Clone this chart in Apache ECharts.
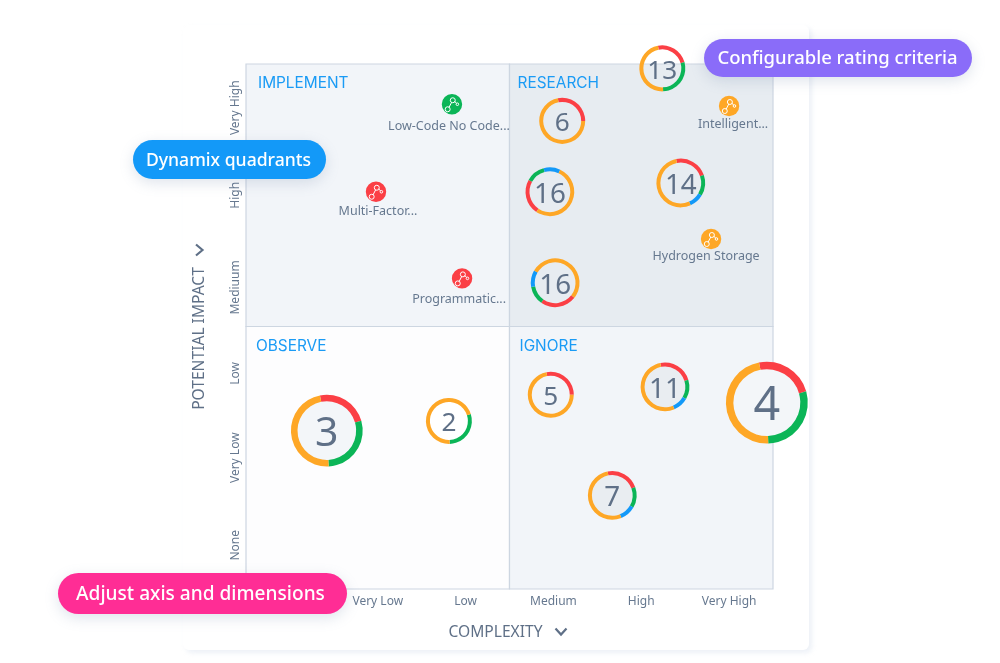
<!DOCTYPE html>
<html>
<head>
<meta charset="utf-8">
<style>html,body{margin:0;padding:0;background:#fff}#chart{width:1000px;height:663px}</style>
<script src="https://cdn.jsdelivr.net/npm/echarts@6/dist/echarts.min.js"></script>
</head>
<body>
<div id="chart"></div>
<script>
// ---- data ----
const complexityLabels = ['None', 'Very Low', 'Low', 'Medium', 'High', 'Very High'];
const impactLabels = ['None', 'Very Low', 'Low', 'Mediuum', 'High', 'Very High'];

const quadrantNames = ['IMPLEMENT', 'RESEARCH', 'OBSERVE', 'IGNORE'];
const quadrantX0 = [0, 3, 0, 3];
const quadrantY0 = [3, 3, 0, 0];

const bubbleCounts = [13, 6, 16, 14, 16, 3, 2, 5, 11, 4, 7];
const bubbleX = [4.74, 3.60, 3.46, 4.95, 3.52, 0.92, 2.31, 3.47, 4.77, 5.93, 4.17];
const bubbleY = [5.95, 5.35, 4.54, 4.64, 3.50, 1.81, 1.92, 2.22, 2.31, 2.13, 1.07];
const bubbleWeight = [1, 1, 1.06, 1.06, 1.06, 1.56, 1, 1, 1.06, 1.78, 1.06];
const ringStart = [-11, -11, 214, -11, 128, -11, 72, -11, -11, -11, -11];
const shareRed = [85, 101, 85, 82, 87, 85, 0, 101, 84, 85, 81];
const shareGreen = [104, 0, 46, 50, 45, 103, 106, 0, 47, 104, 50];
const shareBlue = [0, 0, 40, 35, 40, 0, 0, 0, 37, 0, 38];
const shareOrange = [171, 259, 189, 193, 188, 172, 254, 259, 192, 171, 191];

const pointNames = ['Low-Code No Code...', 'Multi-Factor...', 'Programmatic...', 'Intelligent...', 'Hydrogen Storage'];
const pointX = [2.345, 1.48, 2.46, 5.50, 5.295];
const pointY = [5.54, 4.54, 3.55, 5.52, 4.0];
const pointRating = ['green', 'red', 'red', 'orange', 'orange'];

// ---- styles ----
const COLORS = { red: '#fb3f45', green: '#0bb557', blue: '#1399f8', orange: '#fea726' };
const quadrantFill = ['#f2f5f9', '#e7ecf1', '#fdfdfe', '#f2f5f9'];
const quadrantLabelOffset = [[12, 19], [8, 19], [10, 20], [10, 20]];
const pointLabelOffset = [[-3, 22], [2, 20], [-3, 21], [4, 18], [-5, 17]];
const bubbleFill = { 3: '#f3f6f9', 4: '#f3f6f9', 11: '#e9edf1', 7: '#e9edf1', 2: '#ffffff' };
const TEXT = '#5f7087', FONT = '"Noto Sans", sans-serif';
const BASE_R = 23;

const rad = d => (d - 90) * Math.PI / 180;

function renderQuadrant(params, api) {
  const i = params.dataIndex;
  const a = api.coord([api.value(0), api.value(1) + 3]);
  const b = api.coord([api.value(0) + 3, api.value(1)]);
  const off = quadrantLabelOffset[i];
  return {
    type: 'group',
    children: [
      { type: 'rect', shape: { x: a[0], y: a[1], width: b[0] - a[0], height: b[1] - a[1] },
        style: { fill: quadrantFill[i], stroke: '#cdd6e1', lineWidth: 1.2 } },
      { type: 'text', x: a[0] + off[0], y: a[1] + off[1],
        style: { text: quadrantNames[i], fill: '#1a9bf5', font: '15.4px Inter, ' + FONT, verticalAlign: 'middle', align: 'left' } }
    ]
  };
}

function renderBubble(params, api) {
  const i = params.dataIndex;
  const c = api.coord([api.value(0), api.value(1)]);
  const w = api.value(2);
  const r = BASE_R * w;
  const thick = 4 * (w > 1.2 ? w * 1.05 : 1);
  const children = [];
  const n = bubbleCounts[i];
  if (bubbleFill[n]) {
    children.push({ type: 'circle', shape: { cx: c[0], cy: c[1], r: r - thick / 2 }, style: { fill: bubbleFill[n] } });
  }
  let angle = ringStart[i];
  [['red', shareRed], ['green', shareGreen], ['blue', shareBlue], ['orange', shareOrange]].forEach(([k, arr]) => {
    const v = arr[i];
    if (!v) return;
    children.push({ type: 'sector',
      shape: { cx: c[0], cy: c[1], r: r, r0: r - thick, startAngle: rad(angle), endAngle: rad(angle + v), clockwise: true },
      style: { fill: COLORS[k] } });
    angle += v;
  });
  children.push({ type: 'text', x: c[0], y: c[1] + 1.8 + r * 0.05,
    style: { text: String(n), fill: TEXT, font: (r * 1.14).toFixed(1) + 'px ' + FONT, align: 'center', verticalAlign: 'middle' } });
  return { type: 'group', children };
}

function renderPoint(params, api) {
  const i = params.dataIndex;
  const c = api.coord([api.value(0), api.value(1)]);
  const x = c[0], y = c[1], ln = { stroke: '#fff', lineWidth: 1, fill: null };
  const off = pointLabelOffset[i];
  return {
    type: 'group',
    children: [
      { type: 'circle', shape: { cx: x, cy: y, r: 10.2 }, style: { fill: COLORS[pointRating[i]] } },
      { type: 'line', shape: { x1: x - 3, y1: y + 3.2, x2: x - 0.3, y2: y - 2 }, style: ln },
      { type: 'line', shape: { x1: x + 2.6, y1: y - 3, x2: x + 4.6, y2: y - 0.8 }, style: ln },
      { type: 'circle', shape: { cx: x - 4.3, cy: y + 5, r: 2.5 }, style: ln },
      { type: 'circle', shape: { cx: x + 0.8, cy: y - 4, r: 2.5 }, style: ln },
      { type: 'circle', shape: { cx: x + 5.4, cy: y, r: 1.3 }, style: ln },
      { type: 'text', x: x + off[0], y: y + off[1],
        style: { text: pointNames[i], fill: '#66788f', font: '12.5px ' + FONT, align: 'center', verticalAlign: 'middle' } }
    ]
  };
}

function pill(x, y, w, h, color, text, size, dx) {
  return { type: 'group', z: 100, children: [
    { type: 'rect', z: 100, shape: { x, y, width: w, height: h, r: h / 2 },
      style: { fill: color, shadowBlur: 14, shadowOffsetY: 4, shadowColor: 'rgba(110,130,170,0.22)' } },
    { type: 'text', z: 101, x: x + w / 2 + dx, y: y + h / 2 + 1,
      style: { text, fill: '#fff', font: '500 ' + size + 'px ' + FONT, align: 'center', verticalAlign: 'middle' } }
  ] };
}

const chevStyle = { stroke: TEXT, lineWidth: 2.2, fill: null };
const impactLabelShift = { Mediuum: '   ', Low: '  ' };

const chart = echarts.init(document.getElementById('chart'), null, { renderer: 'canvas' });
chart.setOption({
  animation: false,
  backgroundColor: '#fff',
  grid: { left: 246, top: 64, width: 527, height: 525 },
  xAxis: [
    { type: 'category', data: complexityLabels, boundaryGap: true, position: 'bottom',
      axisLine: { show: false }, axisTick: { show: false }, splitLine: { show: false },
      axisLabel: { interval: 0, color: '#66788f', fontSize: 12, fontFamily: 'Noto Sans', margin: 7 },
      name: 'COMPLEXITY', nameLocation: 'middle', nameGap: 36,
      nameTextStyle: { color: TEXT, fontSize: 15.6, fontFamily: 'Noto Sans', padding: [0, 28, 0, 0] } },
    { type: 'value', min: 0, max: 6, show: false }
  ],
  yAxis: [
    { type: 'category', data: impactLabels, boundaryGap: true, position: 'left',
      axisLine: { show: false }, axisTick: { show: false }, splitLine: { show: false },
      axisLabel: { interval: 0, rotate: 90, color: '#66788f', fontSize: 12, fontFamily: 'Noto Sans', margin: 4,
        formatter: v => v + (impactLabelShift[v] || '') },
      name: 'POTENTIAL IMPACT', nameLocation: 'middle', nameGap: 38,
      nameTextStyle: { color: TEXT, fontSize: 15.6, fontFamily: 'Noto Sans', padding: [0, 24, 0, 0] } },
    { type: 'value', min: 0, max: 6, show: false }
  ],
  series: [
    { type: 'custom', name: 'quadrants', xAxisIndex: 1, yAxisIndex: 1, z: 1, silent: true,
      data: quadrantNames.map((_, i) => [quadrantX0[i], quadrantY0[i]]),
      renderItem: renderQuadrant },
    { type: 'custom', name: 'groups', xAxisIndex: 1, yAxisIndex: 1, z: 3, silent: true,
      data: bubbleCounts.map((_, i) => [bubbleX[i], bubbleY[i], bubbleWeight[i]]),
      renderItem: renderBubble },
    { type: 'custom', name: 'items', xAxisIndex: 1, yAxisIndex: 1, z: 3, silent: true,
      data: pointNames.map((_, i) => [pointX[i], pointY[i]]),
      renderItem: renderPoint }
  ],
  graphic: [
    { type: 'rect', z: -10, shape: { x: 183, y: 25, width: 626, height: 625, r: 6 },
      style: { fill: '#fff', shadowBlur: 5, shadowOffsetX: 3, shadowOffsetY: 3, shadowColor: 'rgba(190,205,225,0.28)' } },
    { type: 'polyline', z: 5, shape: { points: [[555.5, 628.5], [561, 634.5], [566.5, 628.5]] }, style: chevStyle },
    { type: 'polyline', z: 5, shape: { points: [[196, 244.5], [202.5, 250], [196, 255.5]] }, style: chevStyle },
    pill(133, 140, 193, 39, '#1399f8', 'Dynamix quadrants', 17.6, -1),
    pill(704, 39, 268, 38, '#8a6cf9', 'Configurable rating criteria', 18.5, -0.5),
    pill(58, 573, 289, 41, '#ff2d95', 'Adjust axis and dimensions', 19.1, -2)
  ]
});
</script>
</body>
</html>
